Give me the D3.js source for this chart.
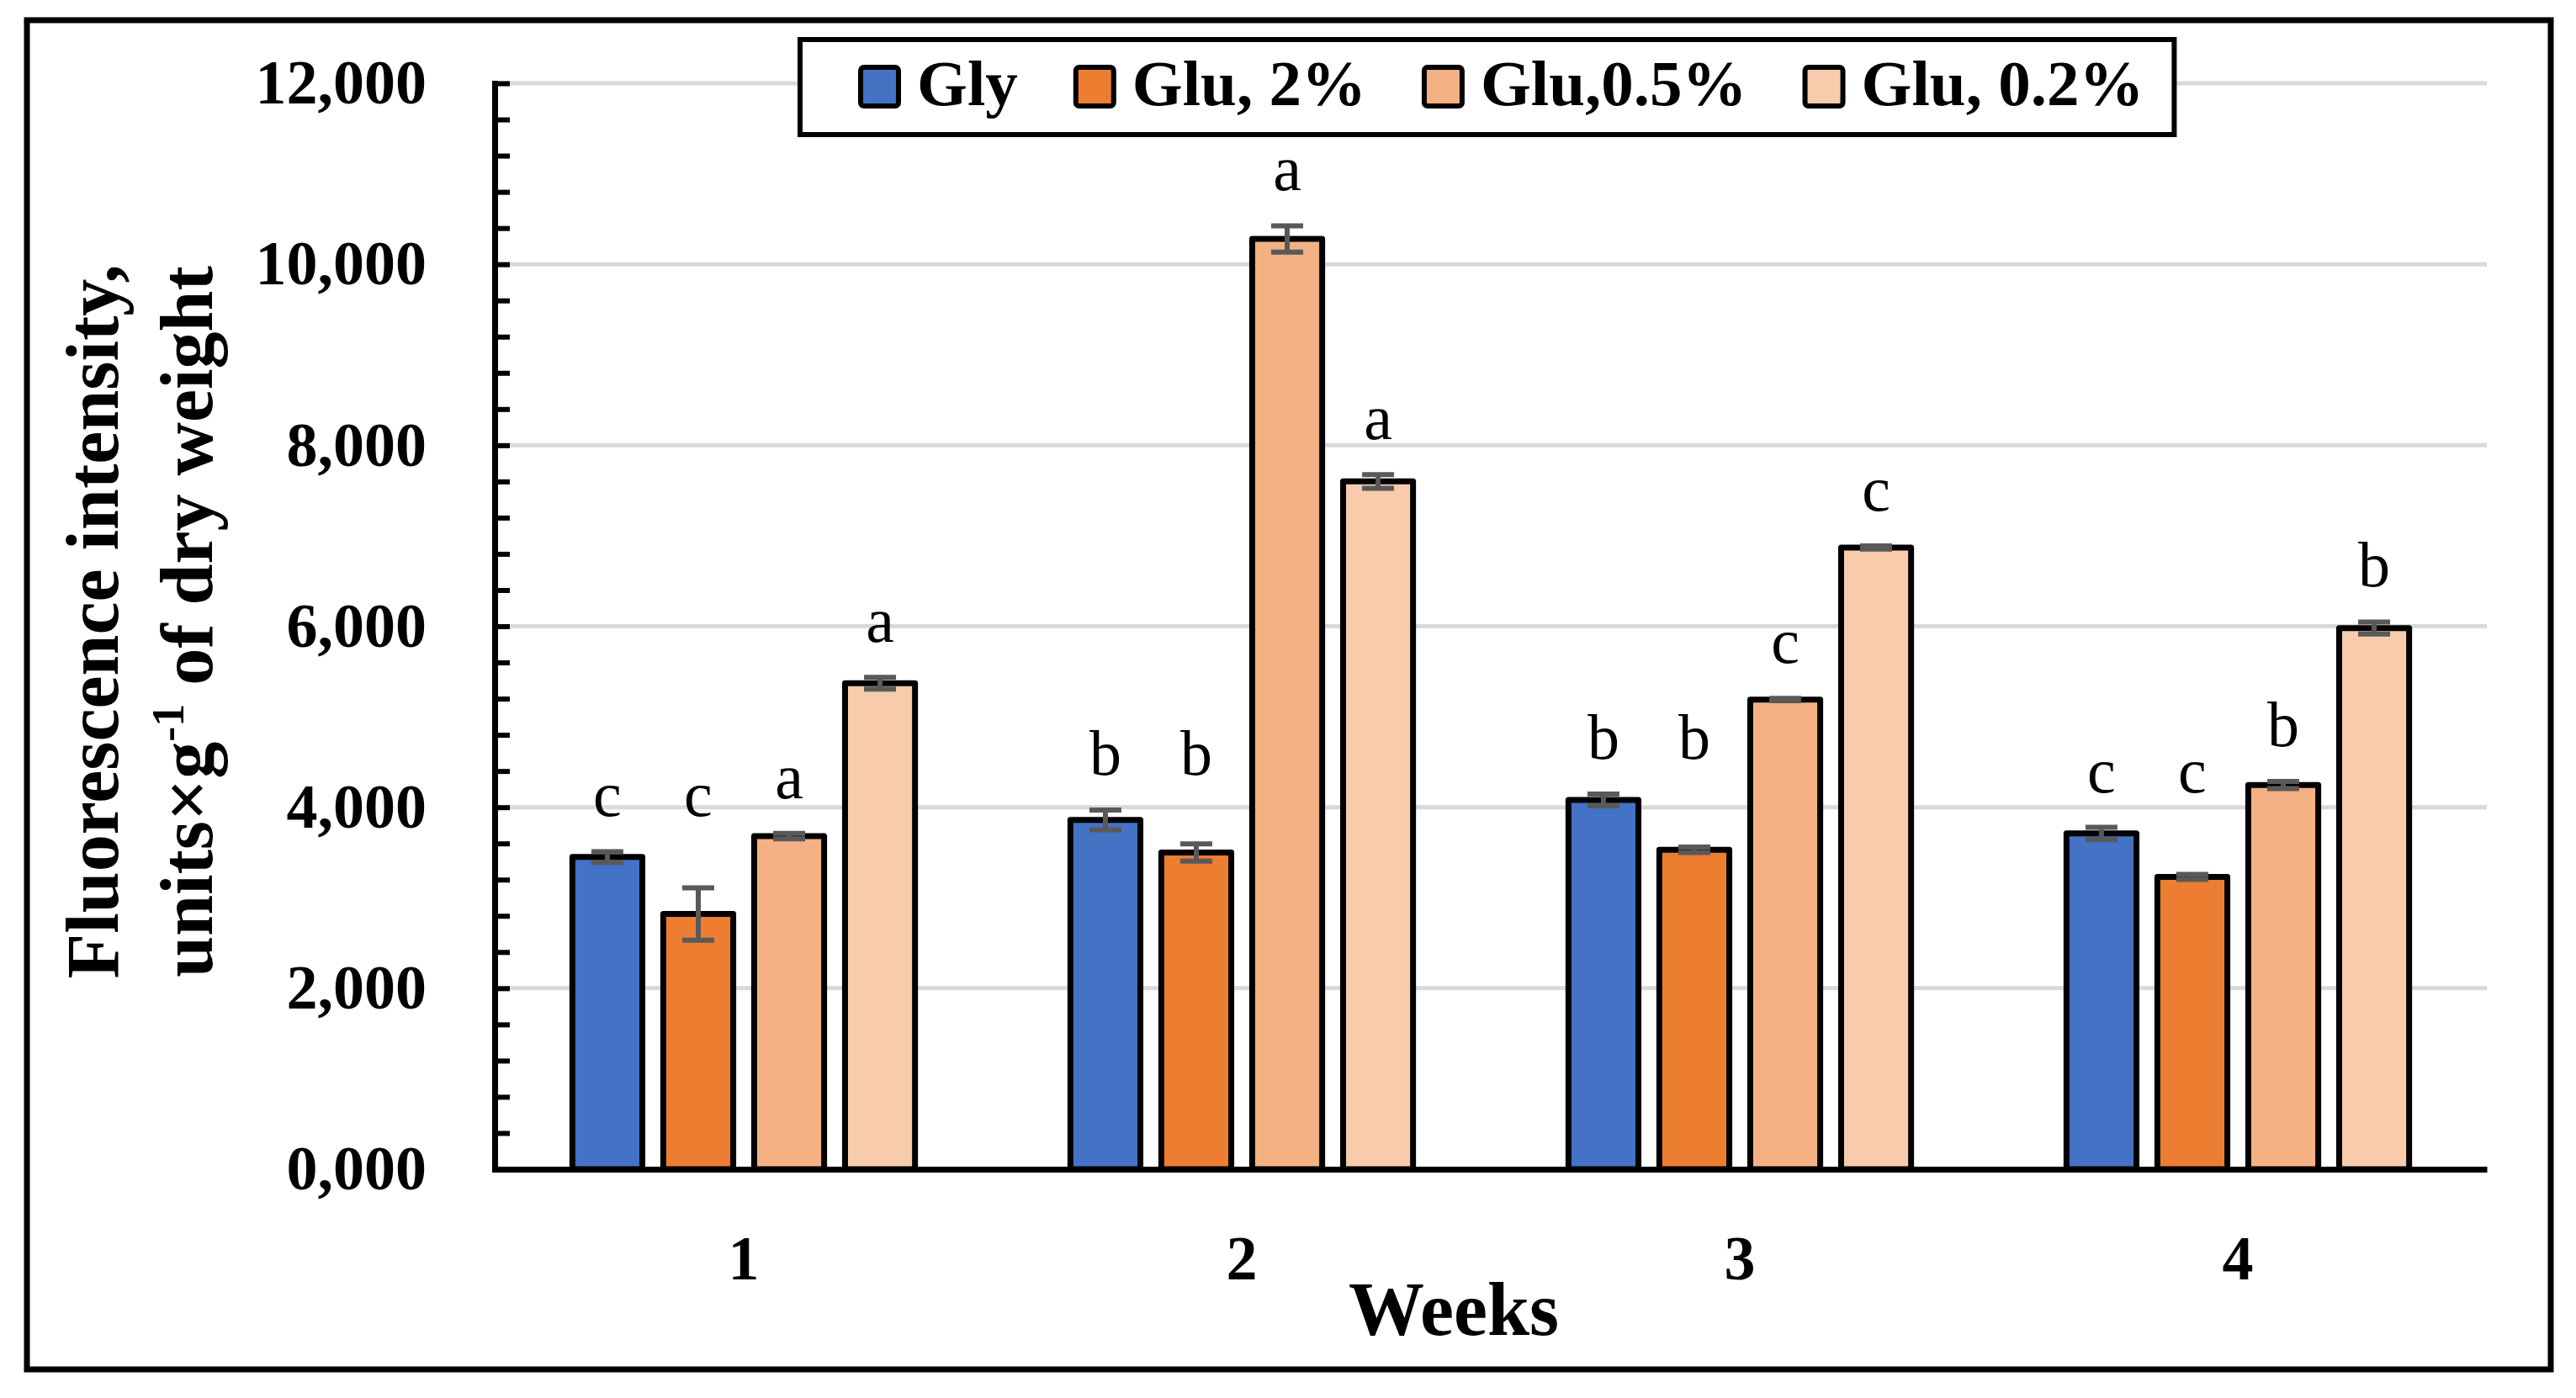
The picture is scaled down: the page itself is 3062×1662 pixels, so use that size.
<!DOCTYPE html>
<html>
<head>
<meta charset="utf-8">
<script src="https://cdn.jsdelivr.net/npm/d3@7"></script>
<style>
  body { margin: 0; background: #fff; }
  svg { display: block; }
</style>
</head>
<body>
<svg id="chart"></svg>
<script>
const weeks = ["1", "2", "3", "4"];
const seriesNames = ["Gly", "Glu, 2%", "Glu,0.5%", "Glu, 0.2%"];
const gly = [3450, 3860, 4080, 3710];
const glu2 = [2820, 3500, 3530, 3230];
const glu05 = [3680, 10280, 5190, 4245];
const glu02 = [5370, 7600, 6870, 5980];
const glyErr = [60, 110, 65, 68];
const glu2Err = [290, 95, 30, 28];
const glu05Err = [30, 145, 12, 39];
const glu02Err = [65, 75, 17, 67];
const glyLetters = ["c", "b", "b", "c"];
const glu2Letters = ["c", "b", "b", "c"];
const glu05Letters = ["a", "a", "c", "b"];
const glu02Letters = ["a", "a", "c", "b"];
const yTicks = [0, 2000, 4000, 6000, 8000, 10000, 12000];
const yTickLabels = ["0,000", "2,000", "4,000", "6,000", "8,000", "10,000", "12,000"];

const colors = ["#4472C4", "#ED7D31", "#F4B183", "#F8CBAD"];
const values = [gly, glu2, glu05, glu02];
const errors = [glyErr, glu2Err, glu05Err, glu02Err];
const letters = [glyLetters, glu2Letters, glu05Letters, glu02Letters];

const width = 3062, height = 1662;
const plotLeft = 588, plotRight = 2956, plotTop = 99, plotBottom = 1390;
const serif = "'Palatino Linotype', 'Book Antiqua', Palatino, 'Liberation Serif', serif";

const svg = d3.select("#chart").attr("width", width).attr("height", height);
svg.append("rect").attr("width", width).attr("height", height).attr("fill", "#fff");

// outer frame
svg.append("rect")
  .attr("x", 32).attr("y", 24).attr("width", 3000).attr("height", 1604)
  .attr("fill", "none").attr("stroke", "#000").attr("stroke-width", 7);

const y = d3.scaleLinear().domain([0, 12000]).range([plotBottom, plotTop]);
const x0 = d3.scaleBand().domain(weeks).range([plotLeft, plotRight]).paddingInner(0.27).paddingOuter(0.135);
const x1 = d3.scaleBand().domain(d3.range(4)).range([0, x0.bandwidth()]).paddingInner(0.23).paddingOuter(0.115);

// gridlines
svg.append("g")
  .selectAll("line")
  .data(yTicks.slice(1))
  .enter()
  .append("line")
  .attr("x1", plotLeft + 4).attr("x2", plotRight)
  .attr("y1", d => y(d)).attr("y2", d => y(d))
  .attr("stroke", "#d9d9d9").attr("stroke-width", 5);

// minor ticks
const minor = d3.range(0, 12001, 400).filter(v => v % 2000 !== 0);
svg.append("g")
  .attr("transform", `translate(${plotLeft},0)`)
  .call(d3.axisLeft(y).tickValues(minor).tickSize(-18).tickSizeOuter(0).tickFormat(""))
  .call(g => g.select(".domain").remove())
  .call(g => g.selectAll(".tick line").attr("stroke", "#000").attr("stroke-width", 6));

// bars
const groups = svg.append("g")
  .selectAll("g")
  .data(weeks)
  .enter()
  .append("g")
  .attr("transform", d => `translate(${x0(d)},0)`);

groups.selectAll("rect")
  .data((w, wi) => values.map((s, si) => ({ si, wi, v: s[wi], e: errors[si][wi] })))
  .enter()
  .append("rect")
  .attr("x", d => x1(d.si))
  .attr("y", d => y(d.v))
  .attr("width", x1.bandwidth())
  .attr("height", d => y(0) - y(d.v))
  .attr("fill", d => colors[d.si])
  .attr("stroke", "#000")
  .attr("stroke-width", 7)
  .attr("stroke-linejoin", "round");

// error bars
const eb = groups.selectAll("g.err")
  .data((w, wi) => values.map((s, si) => ({ si, wi, v: s[wi], e: errors[si][wi] })))
  .enter()
  .append("g")
  .attr("class", "err")
  .attr("stroke", "#595959")
  .attr("stroke-width", 6);
eb.append("line")
  .attr("x1", d => x1(d.si) + x1.bandwidth() / 2).attr("x2", d => x1(d.si) + x1.bandwidth() / 2)
  .attr("y1", d => y(d.v - d.e)).attr("y2", d => y(d.v + d.e));
eb.append("line")
  .attr("x1", d => x1(d.si) + x1.bandwidth() / 2 - 19).attr("x2", d => x1(d.si) + x1.bandwidth() / 2 + 19)
  .attr("y1", d => y(d.v + d.e)).attr("y2", d => y(d.v + d.e));
eb.append("line")
  .attr("x1", d => x1(d.si) + x1.bandwidth() / 2 - 19).attr("x2", d => x1(d.si) + x1.bandwidth() / 2 + 19)
  .attr("y1", d => y(d.v - d.e)).attr("y2", d => y(d.v - d.e));

// significance letters (Gly and Glu 2% share one height)
function labelTop(si, wi) {
  if (si < 2) return Math.max(gly[wi] + glyErr[wi], glu2[wi] + glu2Err[wi]);
  return values[si][wi] + errors[si][wi];
}
groups.selectAll("text.sig")
  .data((w, wi) => letters.map((s, si) => ({ si, wi, t: s[wi] })))
  .enter()
  .append("text")
  .attr("class", "sig")
  .attr("x", d => x1(d.si) + x1.bandwidth() / 2)
  .attr("y", d => y(labelTop(d.si, d.wi)) - 42)
  .attr("text-anchor", "middle")
  .attr("font-family", serif)
  .attr("font-size", 76)
  .text(d => d.t);

// y axis
svg.append("g")
  .attr("transform", `translate(${plotLeft},0)`)
  .call(d3.axisLeft(y).tickValues(yTicks).tickSize(-18).tickSizeOuter(0).tickPadding(81)
    .tickFormat((d, i) => yTickLabels[i]))
  .call(g => g.select(".domain").attr("stroke", "#000").attr("stroke-width", 7).attr("stroke-linecap", "square"))
  .call(g => g.selectAll(".tick line").attr("stroke", "#000").attr("stroke-width", 6))
  .call(g => g.selectAll(".tick text")
    .attr("font-family", serif).attr("font-size", 74).attr("font-weight", "bold").attr("fill", "#000"));

// x axis
svg.append("g")
  .attr("transform", `translate(0,${plotBottom})`)
  .call(d3.axisBottom(x0).tickSize(0).tickPadding(90))
  .call(g => g.select(".domain").attr("stroke", "#000").attr("stroke-width", 7))
  .call(g => g.selectAll(".tick text")
    .attr("font-family", serif).attr("font-size", 74).attr("font-weight", "bold").attr("fill", "#000")
    .attr("dy", 0).attr("y", 131));

// axis titles
svg.append("text")
  .attr("x", 1728).attr("y", 1587)
  .attr("text-anchor", "middle")
  .attr("font-family", serif).attr("font-size", 90).attr("font-weight", "bold")
  .text("Weeks");

const yt = svg.append("text")
  .attr("transform", "translate(140,739) rotate(-90)")
  .attr("text-anchor", "middle")
  .attr("font-family", serif).attr("font-size", 88).attr("font-weight", "bold");
yt.append("tspan").attr("x", 0).attr("y", 0).text("Fluorescence intensity,");
const l2 = yt.append("tspan").attr("x", 0).attr("y", 112);
l2.append("tspan").text("units×g");
l2.append("tspan").attr("font-size", 54).attr("dy", -34).text("-1");
l2.append("tspan").attr("dy", 34).text(" of dry weight");

// legend
const legend = svg.append("g");
const box = legend.append("rect")
  .attr("x", 951).attr("y", 47).attr("height", 113)
  .attr("fill", "#fff").attr("stroke", "#000").attr("stroke-width", 6);
let lx = 1020;
seriesNames.forEach((name, i) => {
  legend.append("rect")
    .attr("x", lx + 3).attr("y", 80).attr("width", 45).attr("height", 46)
    .attr("rx", 4)
    .attr("fill", colors[i]).attr("stroke", "#000").attr("stroke-width", 6);
  const t = legend.append("text")
    .attr("x", lx + 70).attr("y", 125)
    .attr("font-family", serif).attr("font-size", 77).attr("font-weight", "bold")
    .text(name);
  const w = t.node().getComputedTextLength();
  lx = lx + 70 + w + (i < seriesNames.length - 1 ? 66 : 36);
});
box.attr("width", lx - 951);
</script>
</body>
</html>
